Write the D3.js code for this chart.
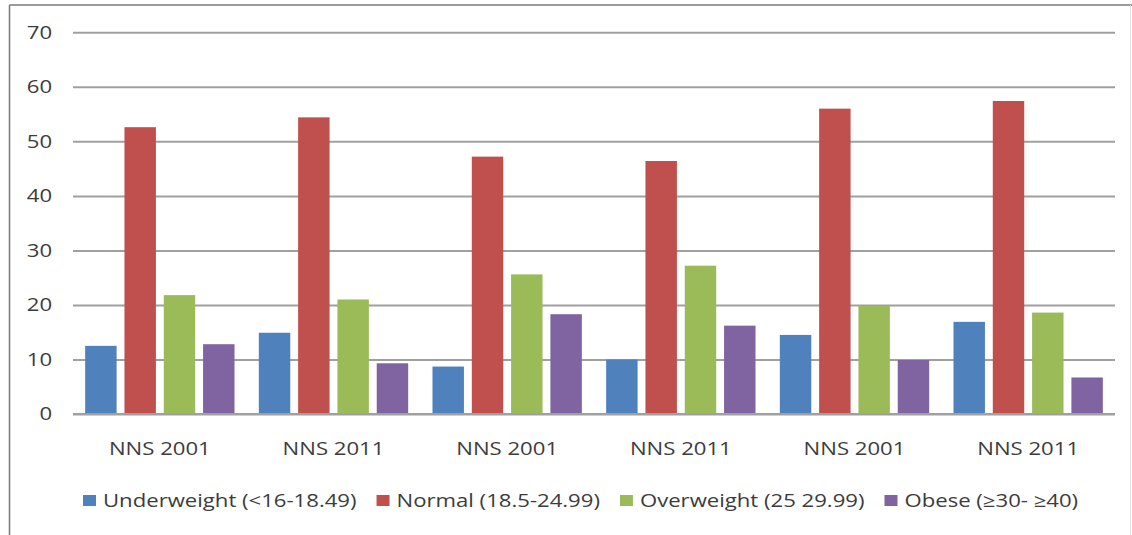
<!DOCTYPE html>
<html>
<head>
<meta charset="utf-8">
<script src="https://cdn.jsdelivr.net/npm/d3@7"></script>
<style>
  html, body { margin: 0; padding: 0; background: #fff; }
  svg { display: block; }
  text { font-family: "Open Sans", sans-serif; fill: #3c3c3c; }
</style>
</head>
<body>
<svg id="chart" width="1132" height="535"></svg>
<script>
// categories along the x axis (labels repeat, so the scale works on indices)
const categories = ['NNS 2001', 'NNS 2011', 'NNS 2001', 'NNS 2011', 'NNS 2001', 'NNS 2011'];

// one value per category for each series
const underweight = [12.5, 14.9, 8.7, 10.0, 14.5, 16.9];
const normal = [52.6, 54.4, 47.2, 46.4, 56.0, 57.4];
const overweight = [21.8, 21.0, 25.6, 27.2, 19.8, 18.6];
const obese = [12.8, 9.3, 18.3, 16.2, 9.9, 6.7];

const seriesNames = ['Underweight (<16-18.49)', 'Normal (18.5-24.99)', 'Overweight (25 29.99)', 'Obese (\u226530- \u226540)'];
const yTicks = [0, 10, 20, 30, 40, 50, 60, 70];

const series = [underweight, normal, overweight, obese];
const colors = ['#4f81bd', '#c0504d', '#9bbb59', '#8064a2'];

// the source image is stretched sideways, so text is too
const sx = 1.23;

const svg = d3.select('#chart');

// frame
svg.append('line').attr('x1', 9.5).attr('x2', 1132).attr('y1', 5).attr('y2', 5)
    .attr('stroke', '#7a7a7a').attr('stroke-width', 1.5);
svg.append('line').attr('x1', 9.5).attr('x2', 9.5).attr('y1', 5).attr('y2', 535)
    .attr('stroke', '#7a7a7a').attr('stroke-width', 1.5);
svg.append('line').attr('x1', 1130.5).attr('x2', 1130.5).attr('y1', 5).attr('y2', 535)
    .attr('stroke', '#e2e2e2').attr('stroke-width', 1);

const plotLeft = 73, plotRight = 1115, plotTop = 32.3, plotBottom = 414;

const x0 = d3.scaleBand()
    .domain(d3.range(categories.length))
    .range([plotLeft, plotRight])
    .paddingInner(0.14)
    .paddingOuter(0.07);

const x1 = d3.scaleBand()
    .domain(d3.range(series.length))
    .range([0, x0.bandwidth()])
    .paddingInner(0.2);

const y = d3.scaleLinear().domain([0, 70]).range([plotBottom, plotTop]);

// y axis + gridlines
const yAxis = svg.append('g')
    .attr('transform', `translate(${plotLeft},0)`)
    .call(d3.axisLeft(y).tickValues(yTicks).tickSize(-(plotRight - plotLeft)).tickPadding(17));
yAxis.select('.domain').remove();
yAxis.selectAll('.tick line').attr('stroke', '#a0a0a0').attr('stroke-width', 2);
yAxis.selectAll('.tick text')
    .attr('font-size', 18)
    .attr('transform', `scale(${sx},1)`)
    .style('fill', '#3c3c3c');

// bars
const groups = svg.append('g').selectAll('g')
    .data(categories.map((c, i) => i))
    .join('g')
    .attr('transform', i => `translate(${x0(i)},0)`);

groups.selectAll('rect')
    .data(i => series.map((s, k) => ({ k, v: s[i] })))
    .join('rect')
    .attr('x', d => x1(d.k))
    .attr('width', x1.bandwidth())
    .attr('y', d => y(d.v))
    .attr('height', d => y(0) - y(d.v))
    .attr('fill', d => colors[d.k]);

// x axis
const xAxis = svg.append('g')
    .attr('transform', `translate(0,${plotBottom})`)
    .call(d3.axisBottom(x0).tickFormat(i => categories[i]).tickSize(0).tickPadding(28));
xAxis.select('.domain').attr('stroke', '#a0a0a0').attr('stroke-width', 2)
    .attr('d', `M${plotLeft},0H${plotRight}`);
xAxis.selectAll('.tick text')
    .attr('font-size', 18)
    .attr('transform', `scale(${sx},1)`)
    .style('fill', '#3c3c3c');

// legend
const legend = svg.append('g').attr('transform', 'translate(83,501)');
let lx = 0;
seriesNames.forEach((name, k) => {
    const item = legend.append('g').attr('transform', `translate(${lx},0)`);
    item.append('rect')
        .attr('x', 0).attr('y', -6)
        .attr('width', 13).attr('height', 11)
        .attr('fill', colors[k]);
    const t = item.append('text')
        .attr('font-size', 18)
        .attr('dy', '0.35em')
        .attr('transform', `translate(20,0) scale(${sx},1)`)
        .text(name);
    lx += 20 + t.node().getComputedTextLength() * sx + 20;
});
</script>
</body>
</html>
